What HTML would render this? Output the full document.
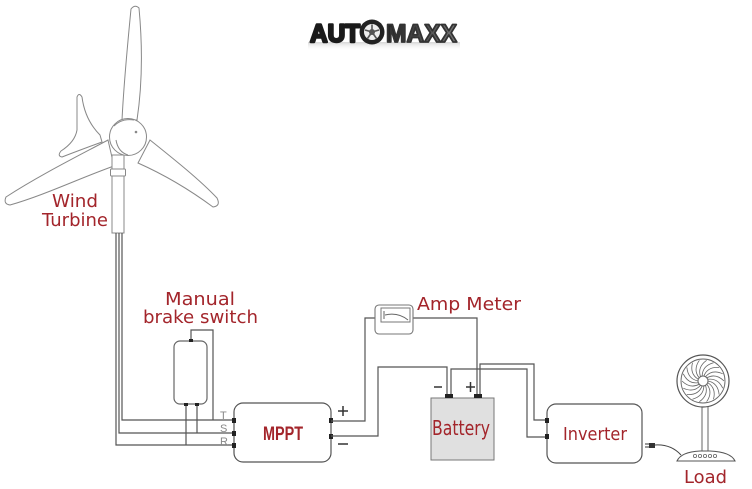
<!DOCTYPE html>
<html><head><meta charset="utf-8"><style>
html,body{margin:0;padding:0;background:#fff;}
svg{display:block;}
</style></head><body>
<svg width="752" height="489" viewBox="0 0 752 489" xmlns="http://www.w3.org/2000/svg">
<defs>
<linearGradient id="refl" x1="0" y1="0" x2="0" y2="1">
<stop offset="0" stop-color="#bbb" stop-opacity="0.6"/>
<stop offset="1" stop-color="#fff" stop-opacity="0"/>
</linearGradient>
<linearGradient id="maxx" x1="0" y1="0" x2="1" y2="0">
<stop offset="0" stop-color="#222"/>
<stop offset="1" stop-color="#777"/>
</linearGradient>
<path id="sp" d="M5,0 Q15,2 16.1,13.5" fill="none" stroke="#666" stroke-width="0.8"/>
</defs>

<!-- Logo -->
<rect x="308" y="42" width="152" height="9" fill="url(#refl)"/>
<text x="310" y="42" font-family="Liberation Sans, sans-serif" font-weight="bold" font-size="25" textLength="50" lengthAdjust="spacingAndGlyphs" fill="#1a1a1a" stroke="#1a1a1a" stroke-width="2.4" stroke-linejoin="round">AUT</text>
<circle cx="372" cy="32" r="12.5" fill="#222"/>
<circle cx="372" cy="32" r="8" fill="#eee"/>
<circle cx="372" cy="32" r="3" fill="#555"/>
<g stroke="#555" stroke-width="1.6">
<line x1="372" y1="32" x2="372" y2="24.5"/>
<line x1="372" y1="32" x2="379" y2="30"/>
<line x1="372" y1="32" x2="376.5" y2="38.5"/>
<line x1="372" y1="32" x2="367.5" y2="38.5"/>
<line x1="372" y1="32" x2="365" y2="30"/>
</g>
<text x="386" y="42" font-family="Liberation Sans, sans-serif" font-weight="bold" font-size="25" textLength="71" lengthAdjust="spacingAndGlyphs" fill="url(#maxx)" stroke="#333" stroke-width="1.8" stroke-linejoin="round">MAXX</text>

<!-- Wind turbine -->
<g fill="#fff" stroke="#888" stroke-width="1">
<path d="M77,97 Q79,92 82,97 Q85,120 100,135 L102,142 Q80,150 62,157 Q57,156 61,151 Q75,142 77,130 Z"/>
<path d="M108,140 C80,155 40,175 6,197 Q3,204 10,205 C45,195 80,178 114,166 Z"/>
<path d="M150,140 C175,160 200,180 217,198 Q221,206 213,207 C190,190 165,175 138,163 Z"/>
<path d="M122,120 C124,80 128,40 131,9 Q135,4 139,8 C142,40 143,80 137,120 Z"/>
<rect x="112" y="155" width="12" height="78"/>
<rect x="110.5" y="169" width="15" height="7" rx="1"/>
<circle cx="128" cy="137" r="18.5"/>
<path d="M114,126 Q122,118 134,120" fill="none"/>
<path d="M116,140 Q118,152 128,155" fill="none"/>
</g>
<circle cx="136" cy="132" r="1.3" fill="#888"/>

<!-- Turbine wires -->
<g fill="none" stroke="#555" stroke-width="1.2">
<path d="M122,233 V420 H234"/>
<path d="M119,233 V433 H234"/>
<path d="M116,233 V445 H234"/>
<!-- brake switch -->
<rect x="174" y="341" width="33" height="63" rx="6" stroke="#666" fill="#fff"/>
<path d="M191,341 V330 H213 V420"/>
<path d="M186,404 V445"/>
<path d="M197,404 V433"/>
</g>
<g fill="#222">
<rect x="189" y="339" width="4" height="3"/>
<rect x="184" y="403" width="4" height="3"/>
<rect x="195" y="403" width="4" height="3"/>
</g>
<g font-family="Liberation Sans, sans-serif" font-size="11" fill="#888">
<text x="220" y="419">T</text>
<text x="220" y="432">S</text>
<text x="220" y="445">R</text>
</g>

<!-- MPPT -->
<rect x="234" y="403" width="97" height="59" rx="9" fill="#fff" stroke="#555" stroke-width="1.2"/>
<g fill="#222">
<rect x="232" y="418" width="4" height="5"/>
<rect x="232" y="431" width="4" height="5"/>
<rect x="232" y="443" width="4" height="5"/>
<rect x="329" y="418" width="4" height="5"/>
<rect x="329" y="434" width="4" height="5"/>
</g>
<text x="263" y="440" font-family="Liberation Sans, sans-serif" font-weight="bold" font-size="19" textLength="40" lengthAdjust="spacingAndGlyphs" fill="#a3252b">MPPT</text>
<g stroke="#333" stroke-width="1.5">
<line x1="338" y1="411" x2="348" y2="411"/>
<line x1="343" y1="406" x2="343" y2="416"/>
<line x1="338" y1="444" x2="348" y2="444"/>
<line x1="434" y1="387" x2="442" y2="387"/>
<line x1="466" y1="387" x2="475" y2="387"/>
<line x1="470.5" y1="382" x2="470.5" y2="392"/>
</g>

<!-- wires to meter/battery/inverter -->
<g fill="none" stroke="#555" stroke-width="1.2">
<path d="M331,421 H365 V318 H375"/>
<path d="M413,318 H477 V396"/>
<path d="M331,436 H378 V367 H447 V396"/>
<path d="M451,396 V369 H527 V437 H547"/>
<path d="M480,396 V364 H534 V420 H547"/>
</g>

<!-- Amp meter -->
<rect x="375" y="305" width="38" height="29" rx="4" fill="#fff" stroke="#777" stroke-width="1.1"/>
<rect x="381" y="308" width="29" height="14" fill="#fff" stroke="#777" stroke-width="1"/>
<path d="M384,311 V319 M385,315 Q398,312 408,320" fill="none" stroke="#666" stroke-width="1"/>
<text x="417" y="310" font-family="DejaVu Sans, sans-serif" font-size="18" textLength="104" lengthAdjust="spacingAndGlyphs" fill="#a3252b">Amp Meter</text>

<!-- Battery -->
<rect x="431" y="398" width="63" height="62" fill="#e0e0e0" stroke="#777" stroke-width="1"/>
<rect x="445" y="394" width="8" height="4" fill="#222"/>
<rect x="474" y="394" width="8" height="4" fill="#222"/>
<text x="432" y="435" font-family="DejaVu Sans, sans-serif" font-size="20" textLength="58" lengthAdjust="spacingAndGlyphs" fill="#a3252b">Battery</text>

<!-- Inverter -->
<rect x="547" y="404" width="95" height="59" rx="9" fill="#fff" stroke="#555" stroke-width="1.2"/>
<rect x="545" y="418" width="4" height="5" fill="#222"/>
<rect x="545" y="434" width="4" height="5" fill="#222"/>
<text x="563" y="440" font-family="DejaVu Sans, sans-serif" font-size="18" textLength="64" lengthAdjust="spacingAndGlyphs" fill="#a3252b">Inverter</text>

<!-- plug and cord -->
<rect x="649" y="443" width="6" height="5" fill="#333"/>
<line x1="645" y1="444" x2="649" y2="444" stroke="#333" stroke-width="1"/>
<line x1="645" y1="447" x2="649" y2="447" stroke="#333" stroke-width="1"/>
<path d="M655,445 Q671,444 681,455" fill="none" stroke="#444" stroke-width="1"/>

<!-- Fan -->
<rect x="702" y="406" width="6" height="47" fill="#fff" stroke="#666" stroke-width="1"/>
<path d="M677,461 Q681,452 700,451 L710,451 Q731,452 735,461 Z" fill="#fff" stroke="#555" stroke-width="1.1"/>
<g fill="none" stroke="#666" stroke-width="0.8">
<circle cx="695" cy="456" r="1.6"/>
<circle cx="700" cy="456" r="1.6"/>
<circle cx="705" cy="456" r="1.6"/>
<circle cx="710" cy="456" r="1.6"/>
<circle cx="715" cy="456" r="1.6"/>
</g>
<circle cx="703" cy="381" r="26" fill="#fff" stroke="#555" stroke-width="1.2"/>
<circle cx="703" cy="381" r="22" fill="none" stroke="#666" stroke-width="0.9"/>
<g transform="translate(703,381)">
<use href="#sp" transform="rotate(0)"/>
<use href="#sp" transform="rotate(20)"/>
<use href="#sp" transform="rotate(40)"/>
<use href="#sp" transform="rotate(60)"/>
<use href="#sp" transform="rotate(80)"/>
<use href="#sp" transform="rotate(100)"/>
<use href="#sp" transform="rotate(120)"/>
<use href="#sp" transform="rotate(140)"/>
<use href="#sp" transform="rotate(160)"/>
<use href="#sp" transform="rotate(180)"/>
<use href="#sp" transform="rotate(200)"/>
<use href="#sp" transform="rotate(220)"/>
<use href="#sp" transform="rotate(240)"/>
<use href="#sp" transform="rotate(260)"/>
<use href="#sp" transform="rotate(280)"/>
<use href="#sp" transform="rotate(300)"/>
<use href="#sp" transform="rotate(320)"/>
<use href="#sp" transform="rotate(340)"/>
<circle cx="0" cy="0" r="5" fill="#fff" stroke="#666" stroke-width="1"/>
</g>
<text x="684" y="483" font-family="DejaVu Sans, sans-serif" font-size="18" textLength="43" lengthAdjust="spacingAndGlyphs" fill="#a3252b">Load</text>

<!-- Labels -->
<text x="52" y="207" font-family="DejaVu Sans, sans-serif" font-size="18" textLength="46" lengthAdjust="spacingAndGlyphs" fill="#a3252b">Wind</text>
<text x="42" y="226" font-family="DejaVu Sans, sans-serif" font-size="18" textLength="66" lengthAdjust="spacingAndGlyphs" fill="#a3252b">Turbine</text>
<text x="165" y="305" font-family="DejaVu Sans, sans-serif" font-size="18" textLength="70" lengthAdjust="spacingAndGlyphs" fill="#a3252b">Manual</text>
<text x="143" y="323" font-family="DejaVu Sans, sans-serif" font-size="18" textLength="115" lengthAdjust="spacingAndGlyphs" fill="#a3252b">brake switch</text>
</svg>
</body></html>
